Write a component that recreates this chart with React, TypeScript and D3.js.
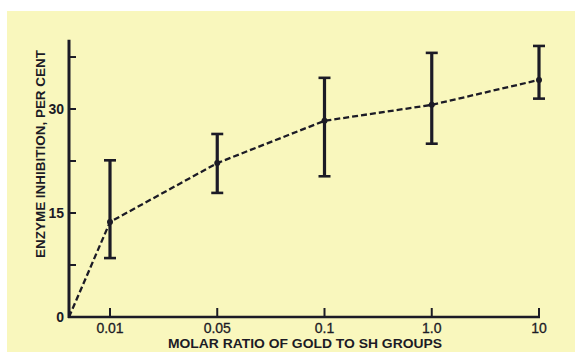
import React from "react";
import * as d3 from "d3";

const categories = ["0.01", "0.05", "0.1", "1.0", "10"];
const means = [13.7, 22.2, 28.3, 30.6, 34.2];
const errLow = [8.5, 17.9, 20.3, 25.0, 31.5];
const errHigh = [22.6, 26.4, 34.5, 38.1, 39.1];
const yTicks = [0, 7.5, 15, 22.5, 30, 37.5];
const yTickLabels = ["0", "", "15", "", "30", ""];

const W = 575;
const H = 352;
const ink = "#1c1b26";
const bg = "#f9f7bd";
const font = "'Liberation Sans', Arial, sans-serif";

export default function App() {
  const x0 = 69;
  const x = d3.scalePoint<string>().domain(categories).range([110, 539]);
  const y = d3.scaleLinear().domain([0, 40]).range([317, 39.7]);

  const pts: [number, number][] = [[x0, y(0)], ...categories.map((c, i) => [x(c)!, y(means[i])] as [number, number])];
  const line = d3.line<[number, number]>().x((d) => d[0]).y((d) => d[1]);

  return (
    <svg width={W} height={H} style={{ position: "absolute", left: 0, top: 0 }}>
      <rect x={0} y={0} width={W} height={H} fill="#ffffff" />
      <rect x={7} y={11} width={W - 7} height={H - 11} fill={bg} />
      {/* axes */}
      <line x1={x0} x2={x0} y1={y(40)} y2={y(0) + 1} stroke={ink} strokeWidth={3} />
      <line x1={x0 - 1} x2={x(categories[categories.length - 1])! + 1} y1={y(0)} y2={y(0)} stroke={ink} strokeWidth={2.5} />
      {yTicks.filter((t) => t > 0).map((t) => (
        <line key={"yt" + t} x1={x0} x2={x0 + 7} y1={y(t)} y2={y(t)} stroke={ink} strokeWidth={2} />
      ))}
      {yTicks.map((t, i) =>
        yTickLabels[i] ? (
          <text key={"yl" + t} x={x0 - 5} y={y(t)} dy="0.36em" textAnchor="end" fontFamily={font} fontSize={14} fontWeight="bold" fill={ink}>
            {yTickLabels[i]}
          </text>
        ) : null
      )}
      {categories.map((c) => (
        <g key={"xt" + c}>
          <line x1={x(c)!} x2={x(c)!} y1={y(0)} y2={y(0) - 9} stroke={ink} strokeWidth={2} />
          <text x={x(c)!} y={333} textAnchor="middle" fontFamily={font} fontSize={14} fill={ink} stroke={ink} strokeWidth={0.3}>
            {c}
          </text>
        </g>
      ))}
      <text x={305} y={348} textAnchor="middle" fontFamily={font} fontSize={12.5} fontWeight="bold" fill={ink} textLength={274} lengthAdjust="spacingAndGlyphs">
        MOLAR RATIO OF GOLD TO SH GROUPS
      </text>
      <text transform={`translate(45,154) rotate(-90)`} textAnchor="middle" fontFamily={font} fontSize={12} fontWeight="bold" fill={ink} textLength={208} lengthAdjust="spacingAndGlyphs">
        ENZYME INHIBITION, PER CENT
      </text>
      {/* data line */}
      <path d={line(pts) || ""} fill="none" stroke={ink} strokeWidth={2.3} strokeDasharray="6,3" />
      {/* error bars */}
      {categories.map((c, i) => (
        <g key={"eb" + c} stroke={ink}>
          <line x1={x(c)!} x2={x(c)!} y1={y(errLow[i])} y2={y(errHigh[i])} strokeWidth={3.2} />
          <line x1={x(c)! - 6} x2={x(c)! + 6} y1={y(errLow[i])} y2={y(errLow[i])} strokeWidth={2.6} />
          <line x1={x(c)! - 6} x2={x(c)! + 6} y1={y(errHigh[i])} y2={y(errHigh[i])} strokeWidth={2.6} />
        </g>
      ))}
      {categories.map((c, i) => (
        <circle key={"pt" + c} cx={x(c)!} cy={y(means[i])} r={3} fill={ink} />
      ))}
    </svg>
  );
}
